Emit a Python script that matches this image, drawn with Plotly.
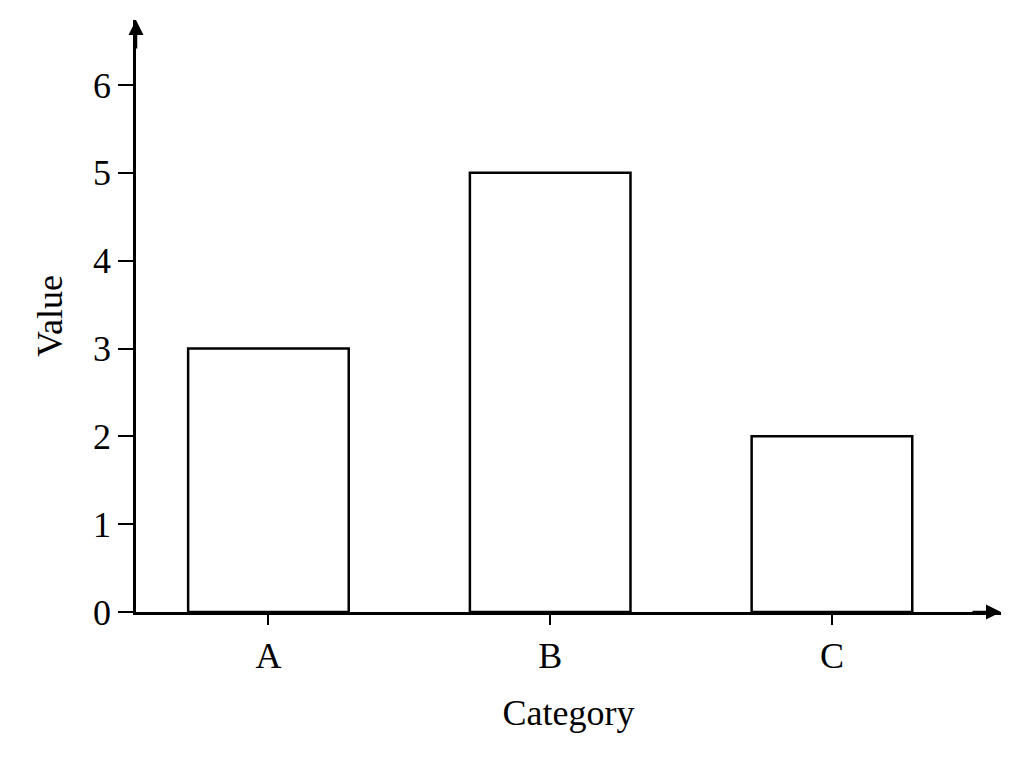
import plotly.graph_objects as go

categories = ["A", "B", "C"]
values = [3, 5, 2]
y_ticks = [0, 1, 2, 3, 4, 5, 6]

font = dict(family="Liberation Serif, DejaVu Serif, serif", size=36, color="black")

fig = go.Figure(go.Bar(
    x=categories, y=values, width=0.57,
    marker=dict(color="white", line=dict(color="black", width=2.5)),
))

fig.update_layout(
    width=1024, height=768, paper_bgcolor="white", plot_bgcolor="white",
    margin=dict(l=128, r=31, t=12, b=164), font=font, showlegend=False,
)
fig.update_xaxes(
    range=[-0.47, 2.6], showline=True, linecolor="black", linewidth=2.5,
    ticks="outside", ticklen=10, tickwidth=2, tickcolor="black",
    showgrid=False, zeroline=False,
    title=dict(text="Category", font=font, standoff=25),
)
fig.update_yaxes(
    range=[0, 6.74], tickvals=y_ticks, showline=True, linecolor="black", linewidth=2.5,
    ticks="outside", ticklen=15, tickwidth=2, tickcolor="black",
    showgrid=False, zeroline=False,
    title=dict(text="Value", font=font, standoff=20),
)

# arrow heads on the axis ends
fig.add_annotation(x=0, y=1, xref="paper", yref="paper", ax=0, ay=30, text="",
                   showarrow=True, arrowhead=2, arrowsize=1.2, arrowwidth=2.5, arrowcolor="black")
fig.add_annotation(x=1, y=0, xref="paper", yref="paper", ax=-30, ay=0, text="",
                   showarrow=True, arrowhead=2, arrowsize=1.2, arrowwidth=2.5, arrowcolor="black")

fig.write_html("out.html")
